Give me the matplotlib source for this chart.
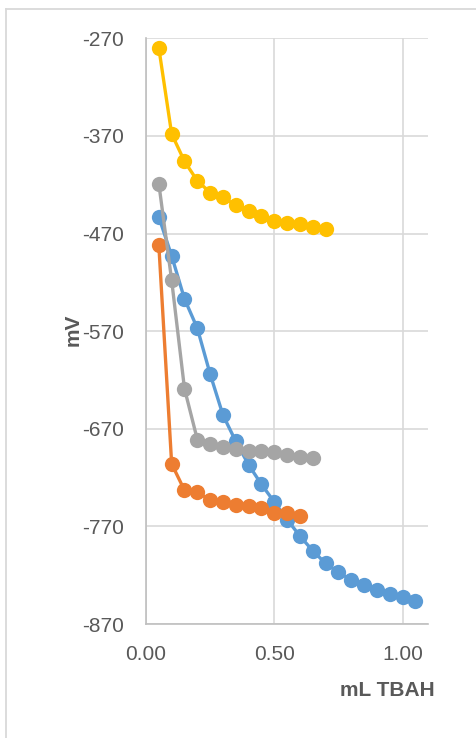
import matplotlib
matplotlib.use("Agg")
import matplotlib.pyplot as plt
from matplotlib.lines import Line2D

# Titration curves: potential (mV) versus volume of TBAH added (mL)
x_blue = [0.05, 0.10, 0.15, 0.20, 0.25, 0.30, 0.35, 0.40, 0.45, 0.50, 0.55,
          0.60, 0.65, 0.70, 0.75, 0.80, 0.85, 0.90, 0.95, 1.00, 1.05]
y_blue = [-453, -493, -537, -567, -614, -656, -683, -707, -727, -745, -763,
          -780, -795, -808, -817, -825, -830, -835, -839, -842, -846]

x_orange = [0.05, 0.10, 0.15, 0.20, 0.25, 0.30, 0.35, 0.40, 0.45, 0.50, 0.55, 0.60]
y_orange = [-482, -706, -733, -735, -743, -745, -748, -749, -751, -756, -756, -759]

x_gray = [0.05, 0.10, 0.15, 0.20, 0.25, 0.30, 0.35, 0.40, 0.45, 0.50, 0.55, 0.60, 0.65]
y_gray = [-419, -518, -629, -681, -686, -689, -691, -693, -693, -694, -697, -699, -700]

x_yellow = [0.05, 0.10, 0.15, 0.20, 0.25, 0.30, 0.35, 0.40, 0.45, 0.50, 0.55,
            0.60, 0.65, 0.70]
y_yellow = [-280, -368, -396, -416, -428, -433, -441, -447, -452, -457, -459,
            -460, -463, -465]

x_ticks = [0.0, 0.5, 1.0]
x_ticklabels = ["0.00", "0.50", "1.00"]
y_ticks = [-270, -370, -470, -570, -670, -770, -870]
y_ticklabels = ["-270", "-370", "-470", "-570", "-670", "-770", "-870"]

series = [
    (x_blue, y_blue, "#5B9BD5"),
    (x_orange, y_orange, "#ED7D31"),
    (x_gray, y_gray, "#A5A5A5"),
    (x_yellow, y_yellow, "#FFC000"),
]

plt.rcParams["font.family"] = ["Liberation Sans", "DejaVu Sans"]

fig = plt.figure(figsize=(4.77, 7.38), dpi=100)
ax = fig.add_axes([146 / 477, 1 - 624 / 738, (428.3 - 146) / 477, (624 - 38.3) / 738])

for xs, ys, col in series:
    ax.plot(xs, ys, color=col, lw=2.4, marker="o", markersize=11,
            markeredgewidth=0, solid_capstyle="round", zorder=3)

ax.set_xlim(0, 1.1)
ax.set_ylim(-870, -270)
ax.set_xticks(x_ticks)
ax.set_xticklabels(x_ticklabels)
ax.set_yticks(y_ticks)
ax.set_yticklabels(y_ticklabels)

ax.grid(True, color="#D9D9D9", lw=1.2, zorder=0)
ax.set_axisbelow(True)
for side in ["top", "right"]:
    ax.spines[side].set_visible(False)
for side in ["left", "bottom"]:
    ax.spines[side].set_color("#BFBFBF")
    ax.spines[side].set_linewidth(1.2)

ax.tick_params(axis="both", length=0, labelsize=15, labelcolor="#595959")
ax.tick_params(axis="y", pad=16)
ax.tick_params(axis="x", pad=15)

fig.text(73 / 477, 1 - 330 / 738, "mV", rotation=90, ha="center", va="center",
         fontsize=15, fontweight="bold", color="#595959")
fig.text(435 / 477, 1 - 690 / 738, "mL TBAH", ha="right", va="center",
         fontsize=15, fontweight="bold", color="#595959")

# Chart frame (left and top edges)
fig.add_artist(Line2D([6.5 / 477, 6.5 / 477], [0, 1 - 9 / 738],
                      transform=fig.transFigure, color="#D9D9D9", lw=1.3))
fig.add_artist(Line2D([6.5 / 477, 1], [1 - 9 / 738, 1 - 9 / 738],
                      transform=fig.transFigure, color="#D9D9D9", lw=1.3))

fig.savefig("out.png", dpi=100, facecolor="white")
